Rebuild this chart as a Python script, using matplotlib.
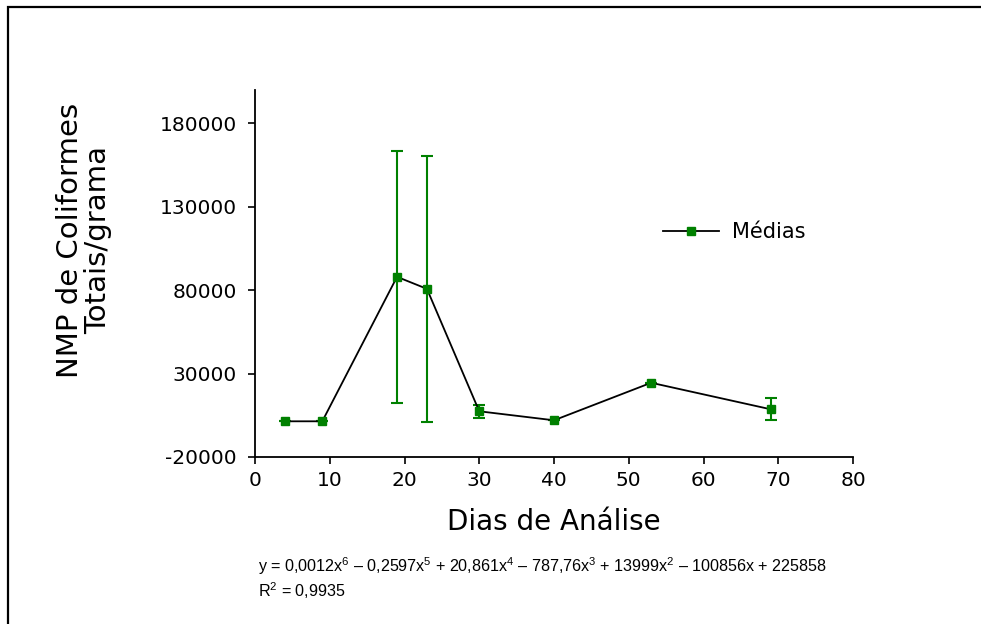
import matplotlib
matplotlib.use("Agg")
import matplotlib.pyplot as plt
from matplotlib.patches import Rectangle

# days of analysis and mean coliform counts (NMP/g) with deviations
dias = [4, 9, 19, 23, 30, 40, 53, 69]
medias = [1400, 1400, 88000, 80800, 7400, 2000, 24500, 8600]
desvios = [0, 0, 75600, 79600, 4000, 0, 0, 6700]

x_ticks = [0, 10, 20, 30, 40, 50, 60, 70, 80]
y_ticks = [-20000, 30000, 80000, 130000, 180000]

equacao = ("y = 0,0012x$^{6}$ \u2013 0,2597x$^{5}$ + 20,861x$^{4}$ \u2013 787,76x$^{3}$"
           " + 13999x$^{2}$ \u2013 100856x + 225858")
r2 = "R$^{2}$ = 0,9935"

plt.rcParams['axes.unicode_minus'] = False
plt.rcParams['mathtext.fontset'] = 'custom'
plt.rcParams['mathtext.rm'] = 'Liberation Sans'
plt.rcParams['mathtext.it'] = 'Liberation Sans'
plt.rcParams['mathtext.default'] = 'rm'

verde = '#008000'

fig = plt.figure(figsize=(9.81, 6.24), dpi=100)
ax = fig.add_axes([255 / 981, 1 - 457 / 624, 598 / 981, 367 / 624])

ax.errorbar(dias, medias, yerr=desvios, fmt='none', ecolor=verde,
            elinewidth=1.5, capsize=4, capthick=1.5, zorder=2)
ax.plot(dias, medias, color='black', lw=1.3, zorder=3)
ax.plot(dias, medias, ls='none', marker='s', ms=6, color=verde, zorder=4)

ax.set_xlim(0, 80)
ax.set_ylim(-20000, 200000)
ax.set_xticks(x_ticks)
ax.set_yticks(y_ticks)
for s in ['top', 'right']:
    ax.spines[s].set_visible(False)
for s in ['left', 'bottom']:
    ax.spines[s].set_linewidth(1.3)
ax.tick_params(direction='out', length=5, width=1.2, labelsize=14.5, pad=5)
ax.tick_params(axis='y', pad=8)

ax.set_xlabel('Dias de Análise', fontsize=20, labelpad=13)
fig.text(84 / 981, 1 - 240 / 624, 'NMP de Coliformes\nTotais/grama',
         rotation=90, ha='center', va='center', fontsize=21,
         multialignment='center', linespacing=1.0)

# legend handle drawn as a line with a square in the middle
h, = ax.plot([], [], color='black', lw=1.3, marker='s', ms=6,
             markerfacecolor=verde, markeredgecolor=verde)
ax.legend([h], ['Médias'], loc='center left', frameon=False, fontsize=15,
          handlelength=2.7, handletextpad=0.6,
          bbox_to_anchor=(644 / 981, 1 - 232 / 624),
          bbox_transform=fig.transFigure)

fig.text(258 / 981, 1 - 566 / 624, equacao, fontsize=11.65,
         family='Liberation Sans', va='center')
fig.text(258 / 981, 1 - 591 / 624, r2, fontsize=11.65,
         family='Liberation Sans', va='center')

# outer frame, cut off at the right and bottom edges
fig.patches.append(Rectangle((8 / 981, -0.2), 1.5, 1.2 - 7 / 624,
                             transform=fig.transFigure, fill=False,
                             lw=1.6, ec='black'))

fig.savefig('out.png', dpi=100)
